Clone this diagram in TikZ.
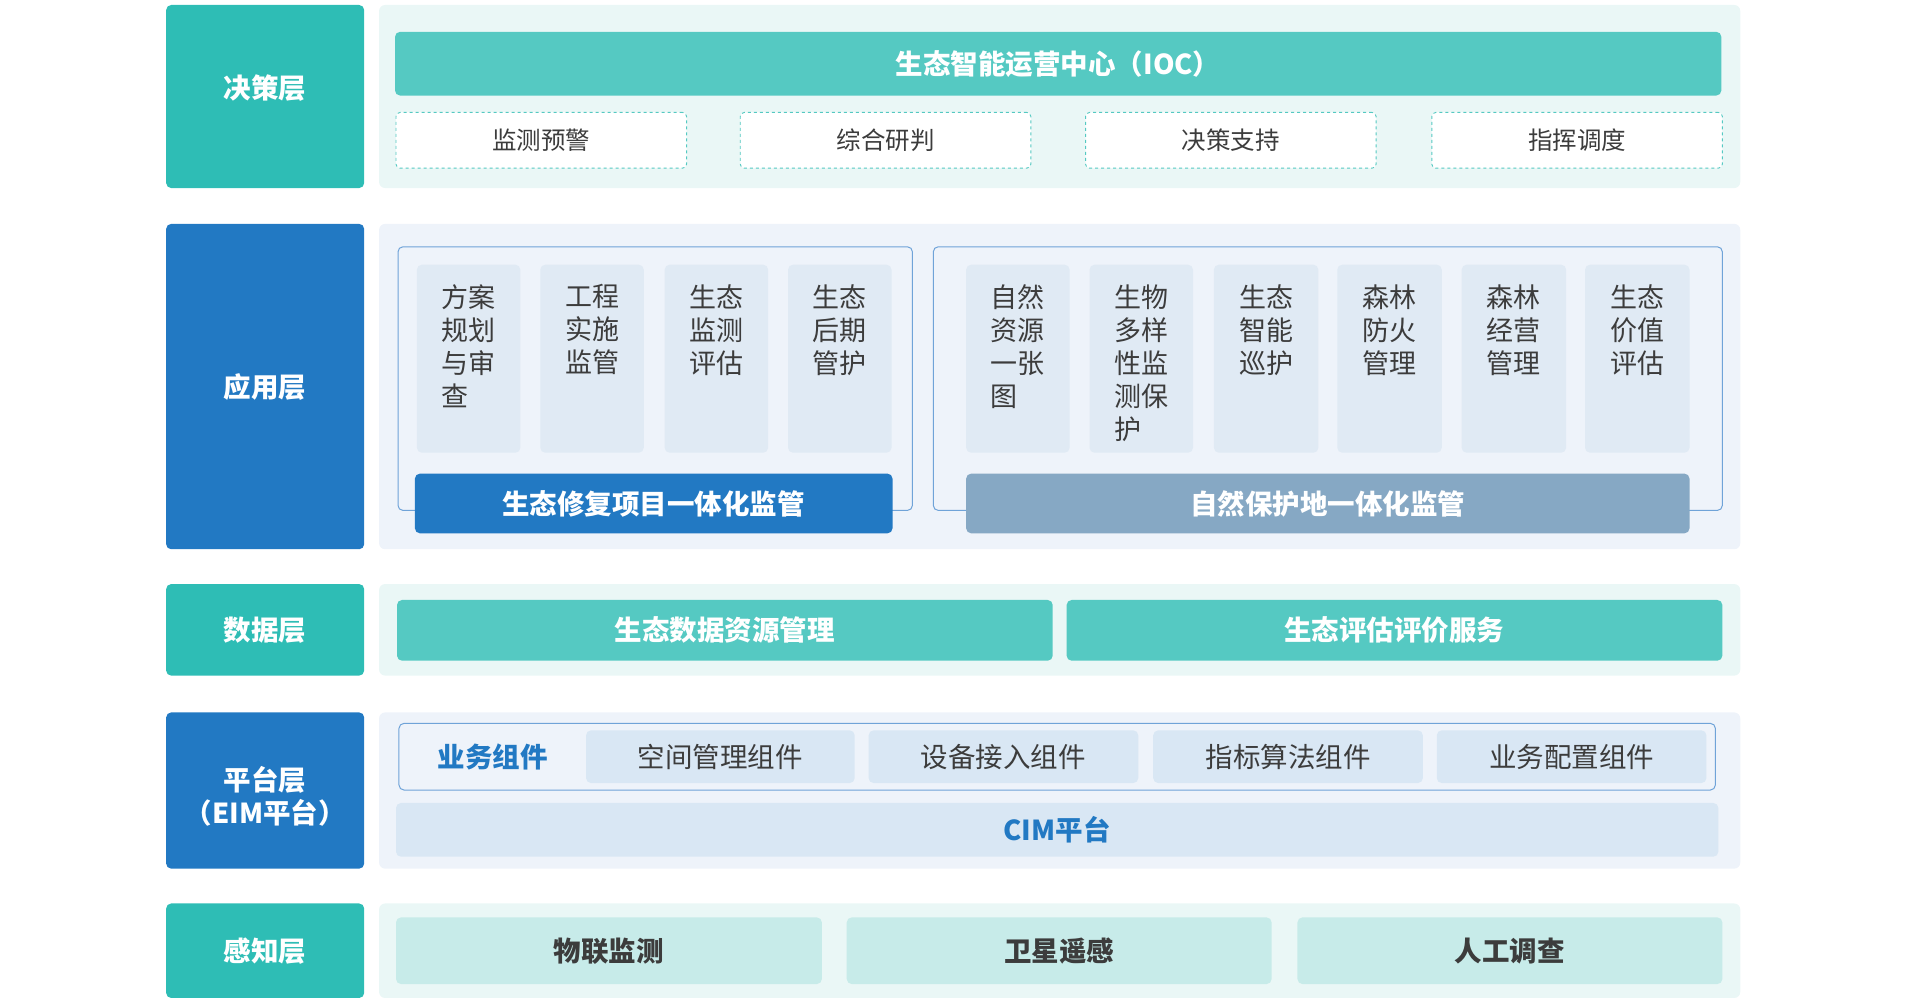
\documentclass[tikz,border=0pt]{standalone}
\usepackage{fontspec}
\setmainfont{Noto Sans CJK SC}
\definecolor{teal}{HTML}{2EBDB5}
\definecolor{tealmid}{HTML}{55C9C2}
\definecolor{teallt}{HTML}{EAF7F6}
\definecolor{tealpale}{HTML}{C7EBE9}
\definecolor{blue}{HTML}{2279C3}
\definecolor{bluelt}{HTML}{EEF3FA}
\definecolor{bluecell}{HTML}{E0EAF4}
\definecolor{bluepale}{HTML}{D9E7F4}
\definecolor{blueline}{HTML}{6FA3D8}
\definecolor{greyblue}{HTML}{86A8C4}
\definecolor{txt}{HTML}{3C3C3C}
\newcommand{\bx}[7]{\node[#6, minimum width={(#4-#2)*0.995pt}, minimum height={(#5-#3)*0.995pt}] (#1) at ({(#2+#4)/2},{(#3+#5)/2}) {#7};}
\begin{document}
\begin{tikzpicture}[x=0.995pt,y=-0.995pt,
  every node/.style={inner sep=0pt, outer sep=0pt},
  lab/.style={fill=#1, rounded corners=5pt, text=white, font=\bfseries\fontsize{27.5}{33}\selectfont, align=center},
  labtext/.style={text=white, font=\bfseries\fontsize{27.5}{33}\selectfont, align=center},
  panel/.style={fill=#1, rounded corners=6pt},
  bar/.style={fill=#1, rounded corners=5pt, text=white, font=\bfseries\fontsize{27.5}{33}\selectfont},
  dashbox/.style={draw=tealmid, dashed, line width=0.9pt, fill=white, rounded corners=4pt, text=txt, font=\fontsize{24.5}{28}\selectfont},
  cell/.style={fill=bluecell, rounded corners=5pt},
  vtext/.style={anchor=north, text=txt, font=\fontsize{27}{33}\selectfont, align=left},
  group/.style={draw=blueline, line width=1pt, rounded corners=5pt},
  comp/.style={fill=bluepale, rounded corners=5pt, text=txt, font=\fontsize{27.5}{32}\selectfont},
  sense/.style={fill=tealpale, rounded corners=5pt, text=txt, font=\bfseries\fontsize{27.5}{32}\selectfont}
]
\useasboundingbox (0pt,0pt) rectangle (1915pt,-1005pt);
% labels
\bx{L1}{167}{5}{366}{189}{lab=teal}{\raisebox{19pt}{决策层}}
\bx{L2}{167}{225}{366}{552}{lab=blue}{应用层}
\bx{L3}{167}{587}{366}{679}{lab=teal}{数据层}
\bx{L4}{167}{716}{366}{873}{lab=blue}{}
\node[labtext] (L4t) at ([yshift=-6pt]L4.center) {平台层\\（EIM平台）};
\bx{L5}{167}{908}{366}{1003}{lab=teal}{感知层}
% panels
\bx{P1}{381}{5}{1749}{189}{panel=teallt}{}
\bx{P2}{381}{225}{1749}{552}{panel=bluelt}{}
\bx{P3}{381}{587}{1749}{679}{panel=teallt}{}
\bx{P4}{381}{716}{1749}{873}{panel=bluelt}{}
\bx{P5}{381}{908}{1749}{1003}{panel=teallt}{}
% decision layer
\bx{ioc}{397}{32}{1730}{96}{bar=tealmid}{生态智能运营中心（IOC）}
\bx{d1}{398}{113}{690}{169}{dashbox}{监测预警}
\bx{d2}{744}{113}{1036}{169}{dashbox}{综合研判}
\bx{d3}{1091}{113}{1383}{169}{dashbox}{决策支持}
\bx{d4}{1439}{113}{1731}{169}{dashbox}{指挥调度}
% application layer
\bx{gA}{400}{248}{917}{513}{group}{}
\bx{gB}{938}{248}{1731}{513}{group}{}
\bx{a1}{419}{266}{523}{455}{cell}{}
\bx{a2}{543}{266}{647}{455}{cell}{}
\bx{a3}{668}{266}{772}{455}{cell}{}
\bx{a4}{792}{266}{896}{455}{cell}{}
\node[vtext] (ta1) at ([yshift=-20pt]a1.north) {方案\\规划\\与审\\查};
\node[vtext] (ta2) at ([yshift=-20pt]a2.north) {工程\\实施\\监管};
\node[vtext] (ta3) at ([yshift=-20pt]a3.north) {生态\\监测\\评估};
\node[vtext] (ta4) at ([yshift=-20pt]a4.north) {生态\\后期\\管护};
\bx{b1}{971}{266}{1075}{455}{cell}{}
\bx{b2}{1095}{266}{1199}{455}{cell}{}
\bx{b3}{1220}{266}{1325}{455}{cell}{}
\bx{b4}{1344}{266}{1449}{455}{cell}{}
\bx{b5}{1469}{266}{1574}{455}{cell}{}
\bx{b6}{1593}{266}{1698}{455}{cell}{}
\node[vtext] (tb1) at ([yshift=-20pt]b1.north) {自然\\资源\\一张\\图};
\node[vtext] (tb2) at ([yshift=-20pt]b2.north) {生物\\多样\\性监\\测保\\护};
\node[vtext] (tb3) at ([yshift=-20pt]b3.north) {生态\\智能\\巡护};
\node[vtext] (tb4) at ([yshift=-20pt]b4.north) {森林\\防火\\管理};
\node[vtext] (tb5) at ([yshift=-20pt]b5.north) {森林\\经营\\管理};
\node[vtext] (tb6) at ([yshift=-20pt]b6.north) {生态\\价值\\评估};
\bx{barA}{417}{476}{897}{536}{bar=blue}{生态修复项目一体化监管}
\bx{barB}{971}{476}{1698}{536}{bar=greyblue}{自然保护地一体化监管}
% data layer
\bx{da1}{399}{603}{1058}{664}{bar=tealmid}{生态数据资源管理}
\bx{da2}{1072}{603}{1731}{664}{bar=tealmid}{生态评估评价服务}
% platform layer
\bx{gC}{401}{727}{1724}{794}{group, fill=bluelt}{}
\node[text=blue, font=\bfseries\fontsize{27.5}{32}\selectfont] (biz) at (495,761) {业务组件};
\bx{c1}{589}{734}{859}{787}{comp}{空间管理组件}
\bx{c2}{873}{734}{1144}{787}{comp}{设备接入组件}
\bx{c3}{1159}{734}{1430}{787}{comp}{指标算法组件}
\bx{c4}{1444}{734}{1715}{787}{comp}{业务配置组件}
\bx{cim}{398}{807}{1727}{861}{comp, text=blue, font=\bfseries\fontsize{27.5}{32}\selectfont}{CIM平台}
% sensing layer
\bx{s1}{398}{922}{826}{989}{sense}{物联监测}
\bx{s2}{851}{922}{1278}{989}{sense}{卫星遥感}
\bx{s3}{1304}{922}{1731}{989}{sense}{人工调查}
\end{tikzpicture}
\end{document}
